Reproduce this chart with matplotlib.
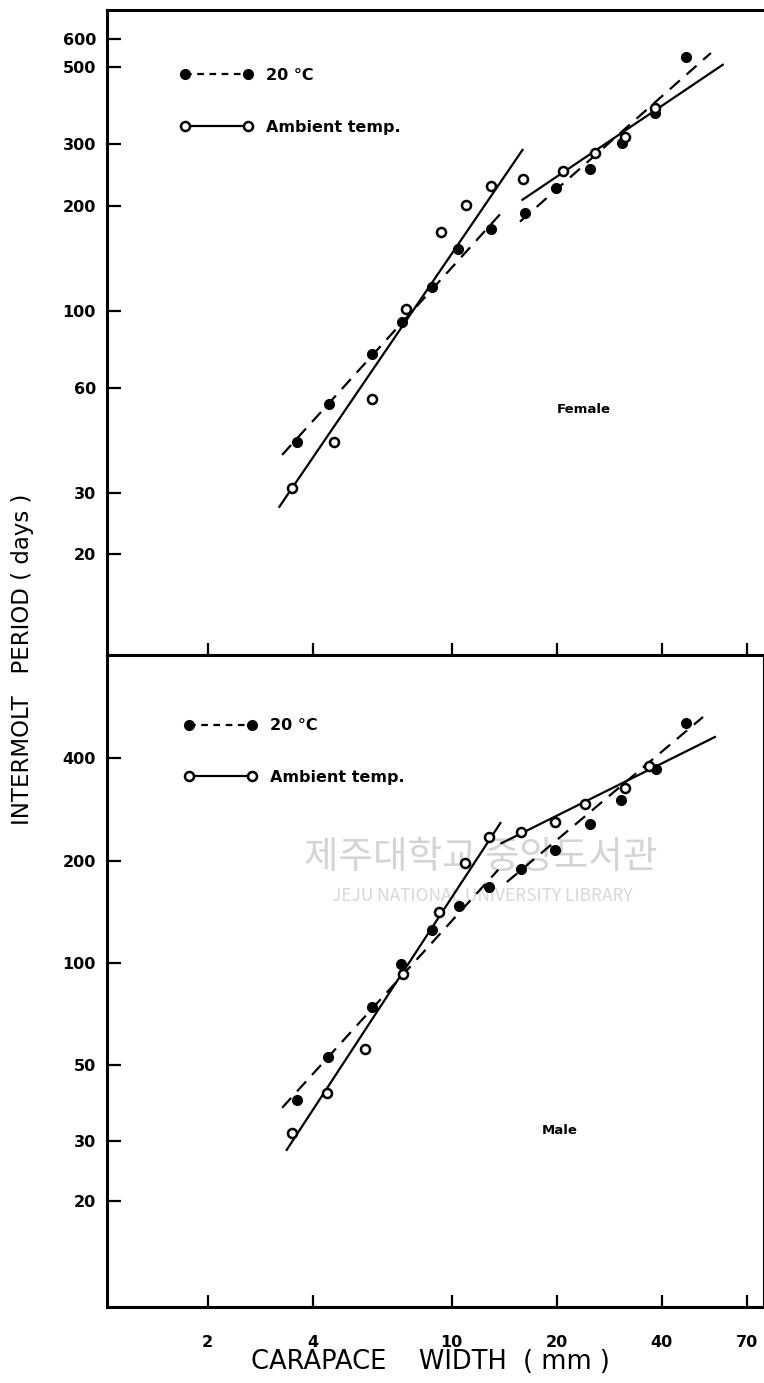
import matplotlib
matplotlib.use("Agg")
import matplotlib.pyplot as plt
from matplotlib.ticker import FixedLocator, FixedFormatter, NullLocator
from matplotlib.lines import Line2D

# ---------------- data ----------------
# Female
f_warm_x = [3.6, 4.45, 5.9, 7.2, 8.8, 10.4, 13.0, 16.2, 19.9, 24.9, 30.8, 38.3, 46.9]
f_warm_y = [42, 54, 75, 93, 117, 150, 172, 191, 225, 255, 303, 369, 535]
f_amb_x = [3.5, 4.6, 5.9, 7.4, 9.3, 11.0, 13.0, 16.0, 20.8, 25.8, 31.4, 38.3]
f_amb_y = [31, 42, 56, 101, 168, 201, 228, 239, 252, 284, 315, 380]
f_warm_fit1_x = [3.27, 13.9]
f_warm_fit1_y = [38.6, 191]
f_warm_fit2_x = [15.7, 55.3]
f_warm_fit2_y = [180, 548]
f_amb_fit1_x = [3.21, 15.96]
f_amb_fit1_y = [27.4, 289]
f_amb_fit2_x = [15.96, 59.8]
f_amb_fit2_y = [208, 507]

# Male
m_warm_x = [3.61, 4.42, 5.91, 7.15, 8.77, 10.5, 12.76, 15.8, 19.8, 24.9, 30.6, 38.5, 46.9]
m_warm_y = [39.5, 53, 74, 99, 125, 147, 167, 189, 215, 257, 301, 372, 508]
m_amb_x = [3.49, 4.39, 5.64, 7.24, 9.18, 10.9, 12.76, 15.8, 19.8, 24.1, 31.4, 36.8]
m_amb_y = [31.6, 41.5, 56, 93, 141, 197, 235, 243, 260, 294, 327, 380]
m_warm_fit1_x = [3.27, 13.6]
m_warm_fit1_y = [37.5, 188]
m_warm_fit2_x = [14.4, 52.5]
m_warm_fit2_y = [173, 529]
m_amb_fit1_x = [3.37, 13.8]
m_amb_fit1_y = [28.2, 258]
m_amb_fit2_x = [13.9, 56.8]
m_amb_fit2_y = [225, 462]

x_ticks = [2, 4, 10, 20, 40, 70]
x_tick_labels = ["2", "4", "10", "20", "40", "70"]
f_y_ticks = [20, 30, 60, 100, 200, 300, 500, 600]
m_y_ticks = [20, 30, 50, 100, 200, 400]

label_warm = "20 °C"
label_amb = "Ambient temp."

# ---------------- figure ----------------
W, H = 764, 1383
fig = plt.figure(figsize=(W / 100, H / 100), dpi=100)
fig.patch.set_facecolor("white")

left = 107 / W
right = 763 / W
ax_f = fig.add_axes([left, 1 - 655 / H, right - left, (655 - 10) / H])
ax_m = fig.add_axes([left, 1 - 1307 / H, right - left, (1307 - 655) / H])

dash = (0, (6, 4))
lw = 1.6
ms = 7


def style(ax, yticks, ylim, show_xlabels):
    ax.set_xscale("log")
    ax.set_yscale("log")
    ax.set_xlim(1.03, 78)
    ax.set_ylim(*ylim)
    ax.xaxis.set_major_locator(FixedLocator(x_ticks))
    ax.xaxis.set_minor_locator(NullLocator())
    ax.yaxis.set_major_locator(FixedLocator(yticks))
    ax.yaxis.set_minor_locator(NullLocator())
    ax.yaxis.set_major_formatter(FixedFormatter([str(v) for v in yticks]))
    if show_xlabels:
        ax.xaxis.set_major_formatter(FixedFormatter(x_tick_labels))
    else:
        ax.xaxis.set_major_formatter(FixedFormatter([""] * len(x_ticks)))
    ax.tick_params(axis="y", direction="in", length=10, width=1.6, pad=8,
                   labelsize=11.5)
    ax.tick_params(axis="x", direction="in", length=9, width=1.6, pad=20,
                   labelsize=11.5)
    for lab in ax.get_xticklabels() + ax.get_yticklabels():
        lab.set_fontweight("bold")
    for s in ["left", "bottom", "top"]:
        ax.spines[s].set_linewidth(2.2)


def draw(ax, wx, wy, ax_, ay, fits_w, fits_a):
    for fx, fy in fits_w:
        ax.plot(fx, fy, color="black", lw=lw, linestyle=dash)
    for fx, fy in fits_a:
        ax.plot(fx, fy, color="black", lw=lw)
    ax.plot(wx, wy, "o", color="black", ms=ms, linestyle="none")
    ax.plot(ax_, ay, "o", mfc="white", mec="black", mew=1.8, ms=ms - 0.5,
            linestyle="none")


# Female panel
style(ax_f, f_y_ticks, (10.3, 728), False)
ax_f.spines["right"].set_visible(False)
draw(ax_f, f_warm_x, f_warm_y, f_amb_x, f_amb_y,
     [(f_warm_fit1_x, f_warm_fit1_y), (f_warm_fit2_x, f_warm_fit2_y)],
     [(f_amb_fit1_x, f_amb_fit1_y), (f_amb_fit2_x, f_amb_fit2_y)])
ax_f.text(0.726, 0.381, "Female", transform=ax_f.transAxes, ha="center",
          va="center", fontsize=9.5, fontweight="bold")

# Male panel
style(ax_m, m_y_ticks, (9.73, 805), True)
ax_m.spines["right"].set_linewidth(0.8)

# watermark (behind the data)
ax_m.text(0.569, 0.689, "제주대학교 중앙도서관", transform=ax_m.transAxes,
          ha="center", va="center", fontsize=27, color="#d4d4d4",
          family=["Noto Sans CJK KR", "DejaVu Sans"], zorder=0)
ax_m.text(0.572, 0.630, "JEJU NATIONAL UNIVERSITY LIBRARY",
          transform=ax_m.transAxes, ha="center", va="center", fontsize=12.5,
          color="#d8d8d8", family=["Noto Sans CJK KR", "DejaVu Sans"], zorder=0)

draw(ax_m, m_warm_x, m_warm_y, m_amb_x, m_amb_y,
     [(m_warm_fit1_x, m_warm_fit1_y), (m_warm_fit2_x, m_warm_fit2_y)],
     [(m_amb_fit1_x, m_amb_fit1_y), (m_amb_fit2_x, m_amb_fit2_y)])
ax_m.text(0.69, 0.27, "Male", transform=ax_m.transAxes, ha="center",
          va="center", fontsize=9.5, fontweight="bold")

# legends
h_w = Line2D([], [], color="black", lw=lw, linestyle=(0, (3, 2.5)), marker="o",
             ms=ms, mfc="black", mec="black")
h_a = Line2D([], [], color="black", lw=lw, marker="o", ms=ms - 0.5,
             mfc="white", mec="black", mew=1.8)
for ax, anchor in [(ax_f, (0.111, 0.910)), (ax_m, (0.117, 0.903))]:
    ax.legend([h_w, h_a], [label_warm, label_amb], numpoints=2,
              frameon=False, loc="upper left", bbox_to_anchor=anchor,
              borderaxespad=0, borderpad=0, handlelength=4.6,
              handletextpad=0.8, labelspacing=2.3,
              prop={"size": 11.5, "weight": "bold"})

fig.text(0.029, 0.523, "INTERMOLT   PERIOD ( days )", rotation=90,
         ha="center", va="center", fontsize=16.5)
fig.text(0.563, 0.0152, "CARAPACE    WIDTH  ( mm )", ha="center", va="center",
         fontsize=18.5)

fig.savefig("out.png", dpi=100, facecolor="white")
